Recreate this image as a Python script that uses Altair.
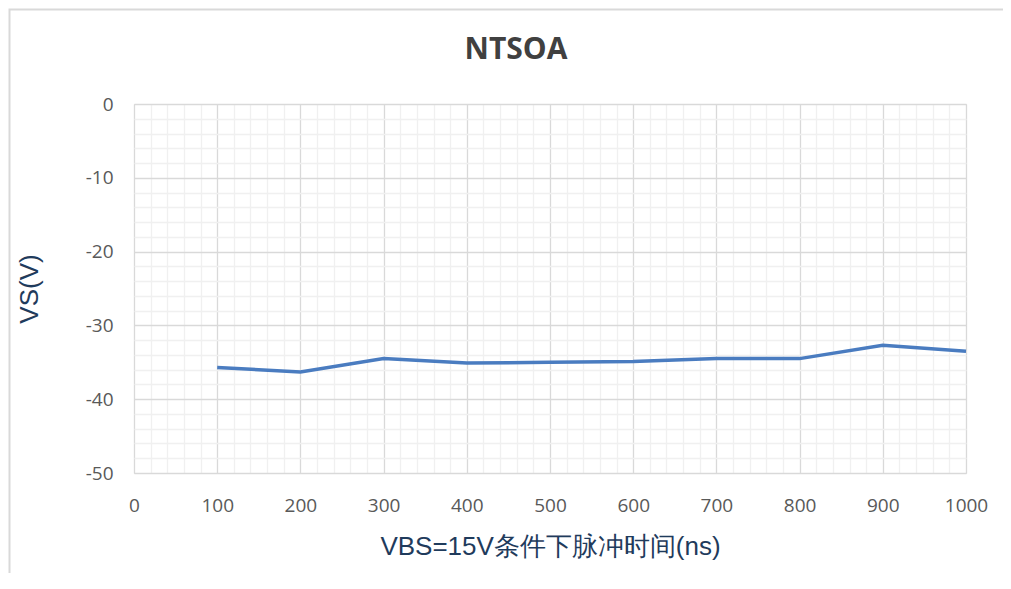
import altair as alt
import pandas as pd

pulse_ns = [100, 200, 300, 400, 500, 600, 700, 800, 900, 1000]
vs_volts = [-35.7, -36.3, -34.5, -35.1, -35.0, -34.9, -34.5, -34.5, -32.7, -33.5]

x_ticks = list(range(0, 1001, 20))
y_ticks = list(range(-50, 1, 2))

chart_title = "NTSOA"
x_title = "VBS=15V条件下脉冲时间(ns)"
y_title = "VS(V)"

df = pd.DataFrame({"t": pulse_ns, "vs": vs_volts})

W, H = 832, 369
PAD_L, PAD_T, PAD_R, PAD_B = 126, 96, 37, 100

label_font = "Open Sans"
title_font = "Liberation Sans"

x_axis = alt.Axis(
    values=x_ticks,
    labelExpr="datum.value % 100 === 0 ? '' + datum.value : ''",
    grid=True,
    gridColor=alt.condition("datum.value % 100 === 0", alt.value("#d9d9d9"), alt.value("#f0f0f0")),
    gridWidth=1.3,
    ticks=False,
    domain=False,
    labelFont=label_font,
    labelFontSize=19,
    labelColor="#595959",
    labelPadding=23,
    labelFlush=False,
    labelOverlap=False,
    title=x_title,
    titleFont=title_font,
    titleFontSize=26,
    titleFontWeight="normal",
    titleColor="#1f3b5c",
    titlePadding=18,
)

y_axis = alt.Axis(
    values=y_ticks,
    labelExpr="datum.value % 10 === 0 ? '' + datum.value : ''",
    grid=True,
    gridColor=alt.condition("datum.value % 10 === 0", alt.value("#d9d9d9"), alt.value("#f0f0f0")),
    gridWidth=1.3,
    ticks=False,
    domain=False,
    labelFont=label_font,
    labelFontSize=19,
    labelColor="#595959",
    labelPadding=21,
    labelFlush=False,
    labelOverlap=False,
    title=y_title,
    titleFont=title_font,
    titleFontSize=26,
    titleFontWeight="normal",
    titleColor="#1f3b5c",
    titlePadding=43,
)

line = alt.Chart(df).mark_line(color="#4a7cc0", strokeWidth=3.5).encode(
    x=alt.X("t:Q", scale=alt.Scale(domain=[0, 1000], nice=False, zero=False), axis=x_axis),
    y=alt.Y("vs:Q", scale=alt.Scale(domain=[-50, 0], nice=False, zero=False), axis=y_axis),
)

one = pd.DataFrame({"a": [0]})

frame = alt.Chart(one).mark_rect(
    fill=None, stroke="#d9d9d9", strokeWidth=2, clip=False
).encode(
    x=alt.value(-PAD_L + 1.5),
    x2=alt.value(W + PAD_R + 30),
    y=alt.value(-PAD_T + 1.5),
    y2=alt.value(H + PAD_B + 30),
)

title_mark = alt.Chart(one).mark_text(
    text=chart_title,
    font="Open Sans",
    fontSize=30,
    fontWeight="bold",
    color="#404040",
    align="center",
    baseline="middle",
    clip=False,
).encode(
    x=alt.value(382),
    y=alt.value(-54),
)

chart = alt.layer(frame, line, title_mark).properties(
    width=W,
    height=H,
    autosize=alt.AutoSizeParams(type="none"),
    padding={"left": PAD_L, "top": PAD_T, "right": PAD_R, "bottom": PAD_B},
).configure_view(stroke=None).configure(background="white")

chart.save("out.html", embed_options={"renderer": "svg", "actions": False})
